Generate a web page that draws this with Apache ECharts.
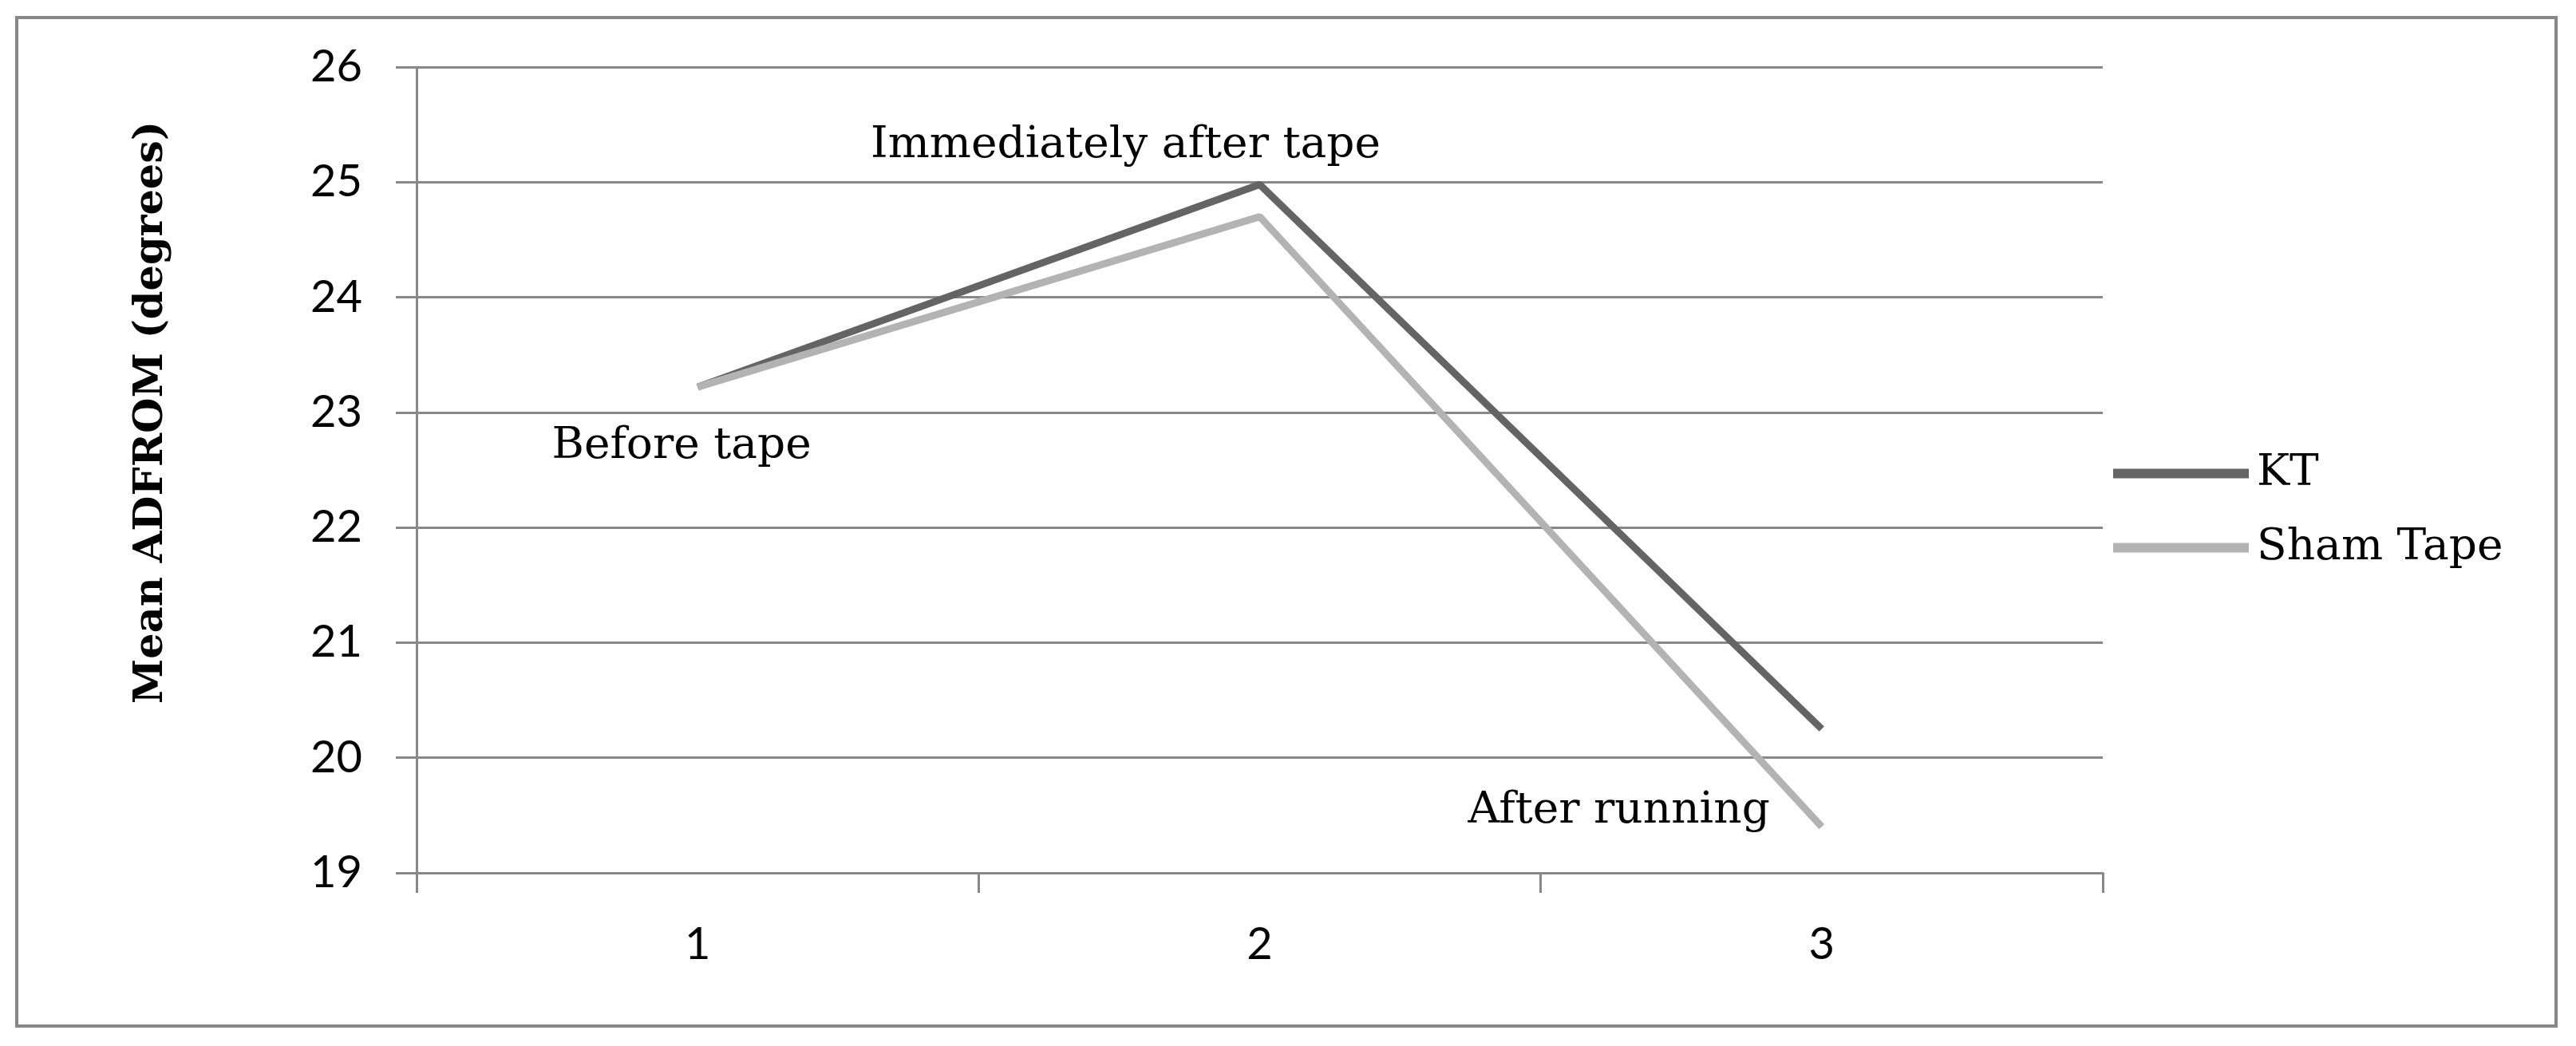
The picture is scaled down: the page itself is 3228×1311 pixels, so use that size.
<!DOCTYPE html>
<html>
<head>
<meta charset="utf-8">
<script src="https://cdn.jsdelivr.net/npm/echarts@6/dist/echarts.min.js"></script>
<style>
  html, body { margin: 0; padding: 0; background: #ffffff; }
  #chart { width: 3228px; height: 1311px; }
</style>
</head>
<body>
<div id="chart"></div>
<script>
// ---- data ----
const categories = ['1', '2', '3'];
const ktValues = [23.22, 24.98, 20.25];
const shamValues = [23.22, 24.70, 19.40];
const seriesNames = ['KT', 'Sham Tape'];
const yMin = 19, yMax = 26, yStep = 1;
const annotationTexts = ['Before tape', 'Immediately after tape', 'After running'];
const yAxisTitle = 'Mean ADFROM (degrees)';

(function () {
const chart = echarts.init(document.getElementById('chart'), null, { renderer: 'canvas' });

const serif = '"DejaVu Serif", "Liberation Serif", serif';
const sans = 'Lato, "Open Sans", sans-serif';
const gridGray = '#888888';

chart.setOption({
  animation: false,
  backgroundColor: '#ffffff',
  grid: { left: 522, top: 84, width: 2113, height: 1010, containLabel: false },
  legend: {
    data: seriesNames,
    orient: 'vertical',
    left: 2643,
    top: 561,
    icon: 'rect',
    itemWidth: 170,
    itemHeight: 12,
    itemGap: 38,
    textStyle: { fontFamily: serif, fontSize: 55, color: '#000', padding: [0, 0, 0, 5] }
  },
  xAxis: {
    type: 'category',
    data: categories,
    boundaryGap: true,
    axisLine: { show: true, lineStyle: { color: gridGray, width: 3 } },
    axisTick: { show: true, length: 25, lineStyle: { color: gridGray, width: 3 } },
    splitLine: { show: false },
    axisLabel: { margin: 62, fontFamily: sans, fontSize: 56, color: '#000' }
  },
  yAxis: {
    type: 'value',
    min: yMin,
    max: yMax,
    interval: yStep,
    axisLine: { show: true, lineStyle: { color: gridGray, width: 3 } },
    axisTick: { show: true, length: 26, lineStyle: { color: gridGray, width: 3 } },
    splitLine: { show: true, lineStyle: { color: gridGray, width: 3 } },
    axisLabel: { margin: 68, fontFamily: sans, fontSize: 56, color: '#000' }
  },
  series: [
    {
      name: seriesNames[0], type: 'line', data: ktValues,
      symbol: 'none', color: '#646464',
      lineStyle: { width: 9, color: '#646464' }
    },
    {
      name: seriesNames[1], type: 'line', data: shamValues,
      symbol: 'none', color: '#b3b3b3',
      lineStyle: { width: 9, color: '#b3b3b3' }
    }
  ]
});

// annotation anchors via library scales
const p1 = chart.convertToPixel({ gridIndex: 0 }, [categories[0], ktValues[0]]);
const p2 = chart.convertToPixel({ gridIndex: 0 }, [categories[1], ktValues[1]]);
const p3 = chart.convertToPixel({ gridIndex: 0 }, [categories[2], shamValues[2]]);
const yTopPx = chart.convertToPixel({ yAxisIndex: 0 }, yMax);
const yBotPx = chart.convertToPixel({ yAxisIndex: 0 }, yMin);

const annStyle = { fontFamily: serif, fontSize: 55, fill: '#000' };

chart.setOption({
  graphic: [
    {
      type: 'rect', silent: true, z: 0,
      shape: { x: 21, y: 22, width: 3182, height: 1264 },
      style: { fill: null, stroke: gridGray, lineWidth: 4 }
    },
    {
      type: 'text', x: p1[0] - 20, y: p1[1] + 75, z: 10,
      style: Object.assign({ text: annotationTexts[0], align: 'center', verticalAlign: 'middle' }, annStyle)
    },
    {
      type: 'text', x: p2[0] - 168, y: p2[1] - 48, z: 10,
      style: Object.assign({ text: annotationTexts[1], align: 'center', verticalAlign: 'middle' }, annStyle)
    },
    {
      type: 'text', x: p3[0] - 65, y: p3[1] - 20, z: 10,
      style: Object.assign({ text: annotationTexts[2], align: 'right', verticalAlign: 'middle' }, annStyle)
    },
    {
      type: 'text', x: 190, y: (yTopPx + yBotPx) / 2 - 72, rotation: Math.PI / 2, z: 10,
      style: { text: yAxisTitle, align: 'center', verticalAlign: 'middle',
               fontFamily: serif, fontSize: 51, fontWeight: 'bold', fill: '#000' }
    }
  ]
});
})();
</script>
</body>
</html>
